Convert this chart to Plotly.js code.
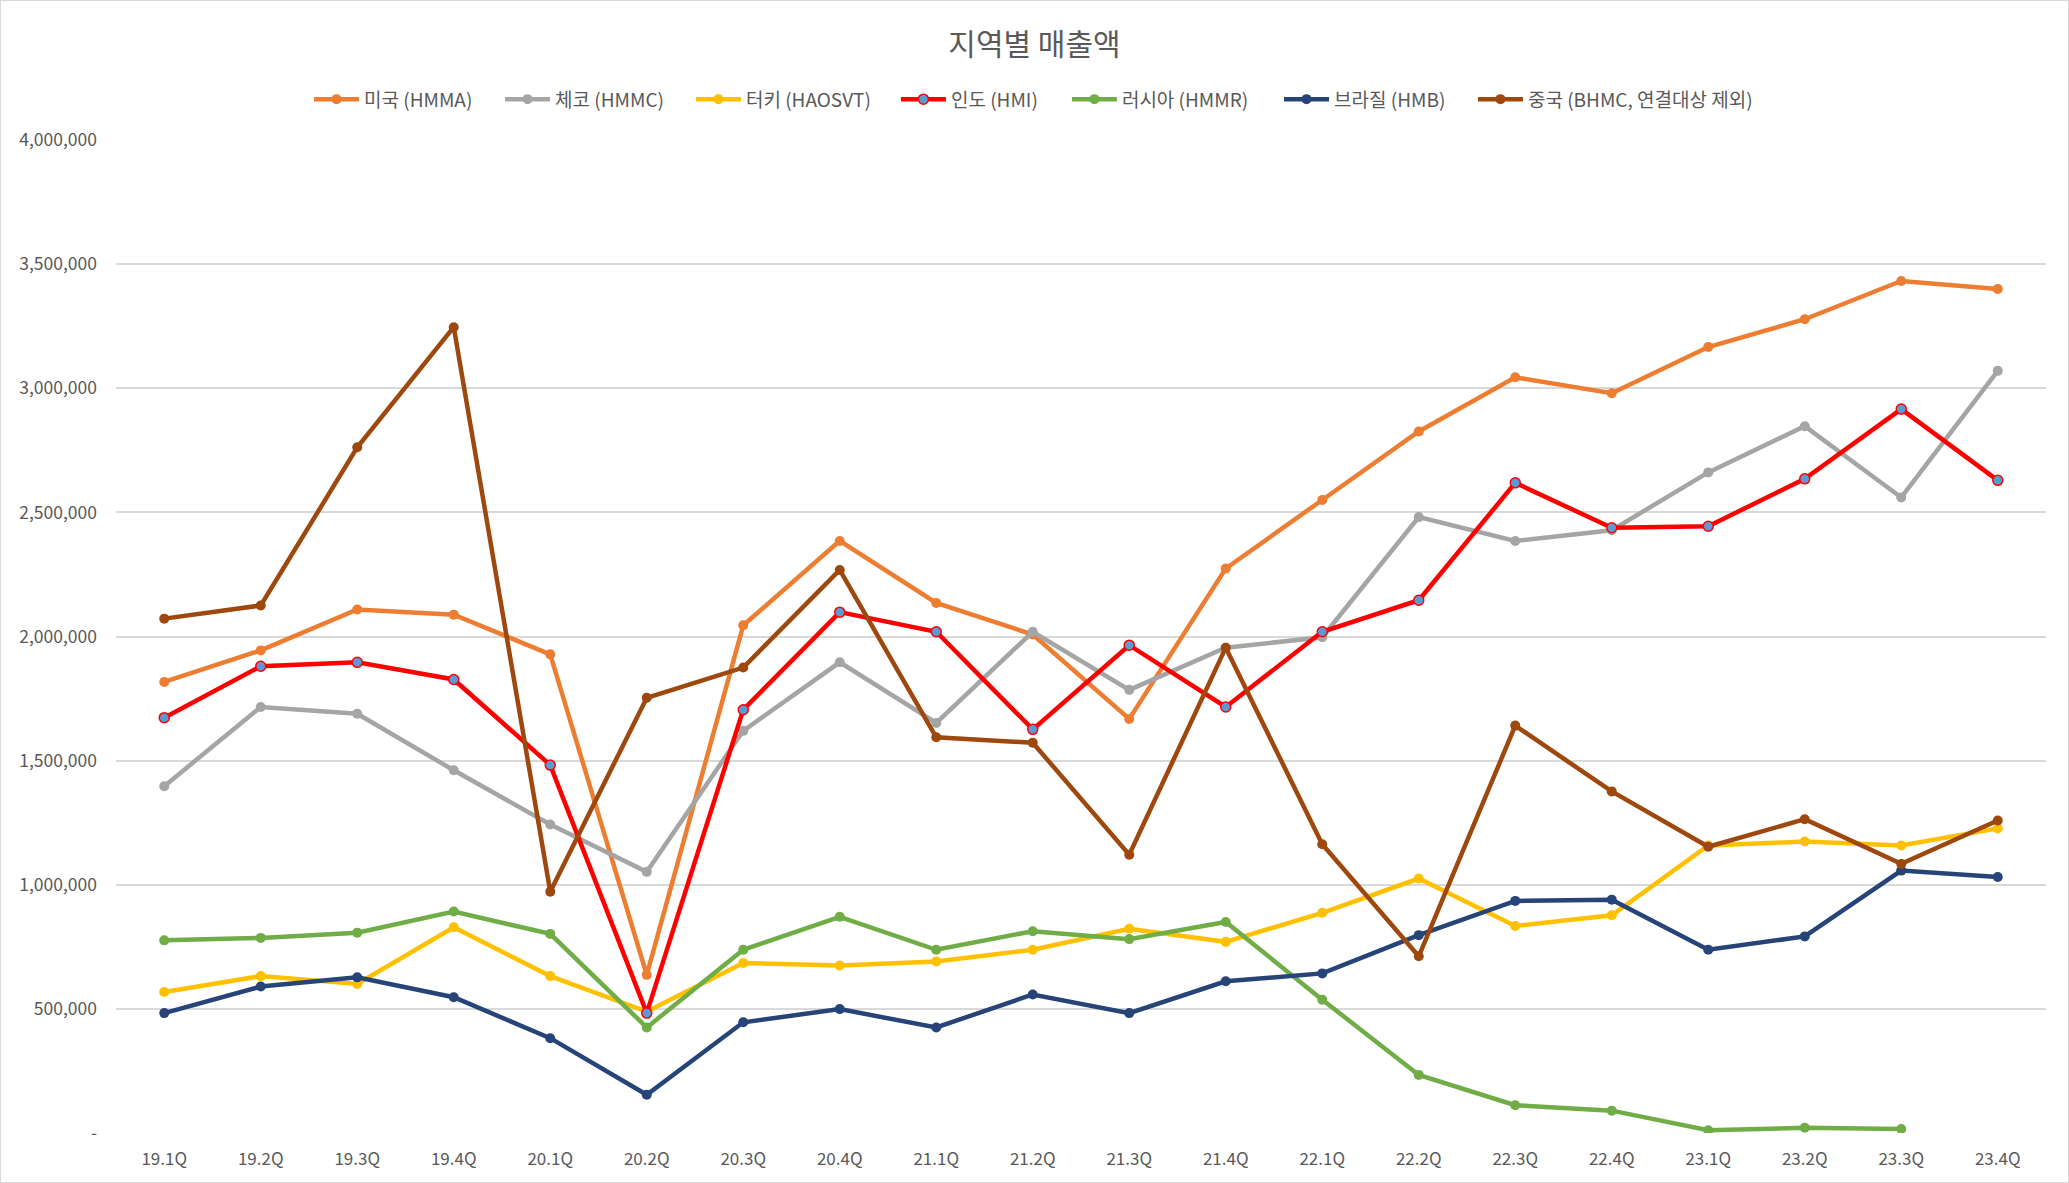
<!DOCTYPE html>
<html>
<head>
<meta charset="utf-8">
<script src="https://cdn.plot.ly/plotly-3.0.1.min.js"></script>
<style>
  html, body { margin: 0; padding: 0; background: #fff; }
  #chart { width: 2067px; height: 1181px; border: 1px solid #d9d9d9; }
</style>
</head>
<body>
<div id="chart"></div>
<script>
const quarters = ['19.1Q','19.2Q','19.3Q','19.4Q','20.1Q','20.2Q','20.3Q','20.4Q','21.1Q','21.2Q',
                  '21.3Q','21.4Q','22.1Q','22.2Q','22.3Q','22.4Q','23.1Q','23.2Q','23.3Q','23.4Q'];

const usa    = [1817000,1944000,2109000,2088000,1928000,637000,2045000,2385000,2135000,2008000,
                1668000,2274000,2550000,2826000,3044000,2980000,3166000,3278000,3432000,3400000];
const czech  = [1397000,1716000,1689000,1461000,1243000,1052000,1620000,1896000,1652000,2019000,
                1785000,1955000,1997000,2481000,2385000,2428000,2661000,2847000,2560000,3070000];
const turkey = [568000,632000,600000,829000,632000,489000,685000,675000,691000,738000,
                823000,770000,887000,1025000,834000,877000,1158000,1174000,1158000,1227000];
const india  = [1673000,1880000,1896000,1827000,1482000,483000,1705000,2098000,2019000,1626000,
                1965000,1716000,2019000,2146000,2619000,2438000,2444000,2635000,2916000,2629000];
const russia = [776000,786000,807000,892000,802000,425000,738000,871000,738000,813000,
                781000,850000,537000,234000,112000,90000,11000,21000,16000,null];
const brazil = [483000,590000,627000,547000,382000,154000,446000,499000,425000,558000,
                483000,611000,643000,797000,935000,940000,738000,792000,1057000,1031000];
const china  = [2072000,2125000,2762000,3246000,972000,1753000,1875000,2268000,1594000,1572000,
                1121000,1955000,1163000,712000,1641000,1376000,1153000,1264000,1084000,1259000];

const yTicks = [0,500000,1000000,1500000,2000000,2500000,3000000,3500000,4000000];
const yTickText = ['-','500,000','1,000,000','1,500,000','2,000,000','2,500,000','3,000,000','3,500,000','4,000,000'];

// one small legend per series so the entries sit as spread out as in the original
const legendX = [0.1000, 0.1990, 0.2979, 0.4041, 0.4927, 0.6026, 0.7031];

function makeTrace(idx, name, values, color, markerColor) {
    return {
        type: 'scatter',
        mode: 'lines+markers',
        x: quarters,
        y: values,
        name: name,
        legend: idx === 0 ? 'legend' : 'legend' + (idx + 1),
        connectgaps: false,
        line: { color: color, width: 4.5 },
        marker: {
            color: markerColor || color,
            size: 10,
            line: { color: color, width: markerColor ? 1.5 : 0 }
        },
        hovertemplate: '%{x}: %{y:,}<extra>' + name + '</extra>'
    };
}

let chartData = [
    makeTrace(0, '미국 (HMMA)', usa, '#ED7D31'),
    makeTrace(1, '체코 (HMMC)', czech, '#A5A5A5'),
    makeTrace(2, '터키 (HAOSVT)', turkey, '#FFC000'),
    makeTrace(3, '인도 (HMI)', india, '#FF0000', '#5B9BD5'),
    makeTrace(4, '러시아 (HMMR)', russia, '#70AD47'),
    makeTrace(5, '브라질 (HMB)', brazil, '#264478'),
    makeTrace(6, '중국 (BHMC, 연결대상 제외)', china, '#9E480E')
];

const fontFamily = '"Noto Sans CJK KR", "Noto Sans", sans-serif';

const layout = {
    width: 2067,
    height: 1181,
    paper_bgcolor: '#fff',
    plot_bgcolor: '#fff',
    font: { family: fontFamily, color: '#595959', size: 17 },
    margin: { l: 115, r: 22, t: 139, b: 49 },
    title: {
        text: '지역별 매출액',
        font: { family: fontFamily, size: 30, color: '#595959' },
        x: 0.5,
        xanchor: 'center',
        y: 0.963,
        yanchor: 'middle'
    },
    showlegend: true,
    xaxis: {
        type: 'category',
        showgrid: false,
        showline: false,
        zeroline: false,
        ticks: '',
        ticklabelstandoff: 14,
        tickfont: { size: 17, color: '#595959' },
        range: [-0.5, 19.5],
        fixedrange: true
    },
    yaxis: {
        range: [0, 4000000],
        tickvals: yTicks,
        ticktext: yTickText,
        showgrid: true,
        gridcolor: '#d9d9d9',
        gridwidth: 1.5,
        zeroline: false,
        showline: false,
        ticks: '',
        ticklabelstandoff: 18,
        tickfont: { size: 17.5, color: '#595959' },
        fixedrange: true
    },
    hovermode: 'closest'
};

legendX.forEach(function (lx, i) {
    layout[i === 0 ? 'legend' : 'legend' + (i + 1)] = {
        orientation: 'h',
        x: lx,
        xanchor: 'left',
        y: 1.041,
        yanchor: 'middle',
        bgcolor: 'rgba(0,0,0,0)',
        font: { family: fontFamily, size: 19, color: '#595959' },
        itemwidth: 45
    };
});

Plotly.newPlot('chart', chartData, layout, { displayModeBar: false, responsive: false });
</script>
</body>
</html>
